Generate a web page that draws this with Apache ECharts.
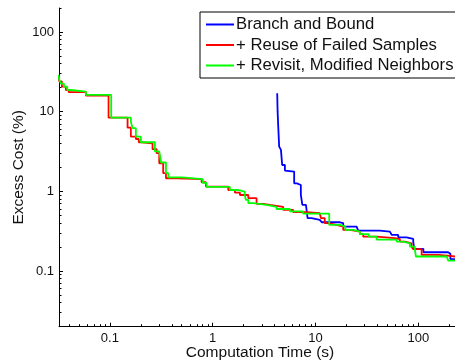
<!DOCTYPE html>
<html>
<head>
<meta charset="utf-8">
<script src="https://cdn.jsdelivr.net/npm/echarts@6/dist/echarts.min.js"></script>
<style>
html,body{margin:0;padding:0;background:#fff;}
#chart{width:455px;height:364px;}
</style>
</head>
<body>
<div id="chart"></div>
<script>
// ---- data ----
const seriesNames = ['Branch and Bound', '+ Reuse of Failed Samples', '+ Revisit, Modified Neighbors'];

const bbTime = [4.24, 4.28, 4.34, 4.40, 4.43, 4.61, 4.74, 5.04, 5.24, 6.2, 6.6, 7.2, 7.45, 8.07, 8.37, 9.16, 11.0, 11.5, 17.3, 18.6, 25.1, 26.0, 42.3, 52.9, 55.0, 63.7, 76.9, 89.2, 91.2, 112, 195, 205, 260];
const bbCost = [17.0, 10.0, 6.49, 4.4, 3.64, 3.31, 2.14, 1.82, 1.77, 1.26, 1.20, 0.90, 0.675, 0.656, 0.46, 0.438, 0.429, 0.409, 0.398, 0.361, 0.344, 0.321, 0.312, 0.303, 0.284, 0.265, 0.253, 0.234, 0.19, 0.172, 0.165, 0.141, 0.141];

const reuseTime = [0.0317, 0.0322, 0.0341, 0.0373, 0.0397, 0.0585, 0.0971, 0.1486, 0.160, 0.179, 0.191, 0.203, 0.260, 0.285, 0.302, 0.330, 0.351, 0.45, 0.78, 0.859, 1.416, 1.644, 1.84, 2.22, 2.67, 3.10, 3.60, 4.85, 6.07, 8.19, 11.0, 11.3, 12.3, 13.2, 16.0, 18.6, 21.6, 27.0, 29.1, 39.3, 59.2, 66.2, 74.1, 86.0, 89.2, 107.7, 156.3, 203, 260];
const reuseCost = [28, 24, 20.6, 18.7, 17.6, 15.9, 8.4, 6.3, 4.86, 4.54, 4.13, 4.01, 3.38, 3.01, 2.25, 1.69, 1.46, 1.42, 1.30, 1.146, 1.04, 0.964, 0.90, 0.82, 0.695, 0.675, 0.64, 0.585, 0.547, 0.531, 0.522, 0.46, 0.398, 0.379, 0.361, 0.328, 0.312, 0.29, 0.27, 0.258, 0.251, 0.234, 0.223, 0.202, 0.188, 0.159, 0.155, 0.149, 0.149];

const revisitTime = [0.0317, 0.0322, 0.0335, 0.0357, 0.0385, 0.042, 0.0585, 0.103, 0.160, 0.166, 0.179, 0.200, 0.274, 0.302, 0.315, 0.351, 0.37, 0.50, 0.80, 0.873, 1.47, 1.75, 2.05, 2.10, 2.22, 2.48, 3.34, 4.18, 5.64, 7.59, 13.6, 17.3, 19.5, 23.3, 27.0, 33.0, 39.3, 61.5, 71.3, 82.8, 92.6, 94.8, 188.5, 195.4, 260];
const revisitCost = [29, 25, 22.5, 20.6, 18.7, 17.8, 16.2, 8.4, 7.5, 6.2, 4.86, 4.13, 3.17, 3.0, 2.3, 1.69, 1.5, 1.42, 1.28, 1.135, 1.04, 0.99, 0.90, 0.78, 0.71, 0.675, 0.64, 0.60, 0.56, 0.525, 0.379, 0.361, 0.328, 0.312, 0.29, 0.27, 0.248, 0.234, 0.223, 0.202, 0.184, 0.152, 0.145, 0.135, 0.135];

const xMajorTicks = [0.1, 1, 10, 100];
const xMinorTicks = [0.04, 0.05, 0.06, 0.07, 0.08, 0.09, 0.2, 0.3, 0.4, 0.5, 0.6, 0.7, 0.8, 0.9, 2, 3, 4, 5, 6, 7, 8, 9, 20, 30, 40, 50, 60, 70, 80, 90, 200];
const yMajorTicks = [0.1, 1, 10, 100];
const yMinorTicks = [0.03, 0.04, 0.05, 0.06, 0.07, 0.08, 0.09, 0.2, 0.3, 0.4, 0.5, 0.6, 0.7, 0.8, 0.9, 2, 3, 4, 5, 6, 7, 8, 9, 20, 30, 40, 50, 60, 70, 80, 90, 200];

const xRange = [0.032, 260];
const yRange = [0.02, 200];

function zip(a, b) { return a.map((v, i) => [v, b[i]]); }

const FONT = 'Liberation Sans, Arial, Helvetica, sans-serif';
const fmt = v => String(parseFloat(Number(v).toPrecision(4)));

const chart = echarts.init(document.getElementById('chart'), null, {renderer: 'canvas'});

const axisCommon = {
  type: 'log', logBase: 10,
  splitLine: {show: false},
  axisLine: {show: true, lineStyle: {color: '#000', width: 1}},
};

chart.setOption({
  animation: false,
  backgroundColor: '#fff',
  grid: {left: 59, top: 8, right: -6, bottom: 37.3, containLabel: false, outerBoundsMode: 'none'},
  legend: {
    data: seriesNames,
    orient: 'vertical',
    left: 200, top: 12,
    padding: [4, 40, 4, 6],
    itemGap: 3.5,
    itemWidth: 28, itemHeight: 2,
    icon: 'rect',
    backgroundColor: '#fff',
    borderColor: '#000', borderWidth: 1,
    textStyle: {fontFamily: FONT, fontSize: 16.7, color: '#111', lineHeight: 16, padding: [0, 0, 0, -3]},
  },
  xAxis: [
    Object.assign({}, axisCommon, {
      min: xRange[0], max: xRange[1],
      name: 'Computation Time (s)', nameLocation: 'middle', nameGap: 18, nameMoveOverlap: false,
      nameTextStyle: {fontFamily: FONT, fontSize: 15.5, color: '#111'},
      axisTick: {show: true, inside: true, length: 4, customValues: xMajorTicks, lineStyle: {color: '#000'}},
      axisLabel: {show: true, customValues: xMajorTicks, formatter: fmt, margin: 5, fontFamily: FONT, fontSize: 13, color: '#111'},
    }),
    Object.assign({}, axisCommon, {
      min: xRange[0], max: xRange[1],
      axisLine: {show: false},
      axisTick: {show: true, inside: true, length: 2.5, customValues: xMinorTicks, lineStyle: {color: '#000'}},
      axisLabel: {show: false},
      position: 'bottom',
    })
  ],
  yAxis: [
    Object.assign({}, axisCommon, {
      min: yRange[0], max: yRange[1],
      name: 'Excess Cost (%)', nameLocation: 'middle', nameGap: 32, nameRotate: 90, nameMoveOverlap: false,
      nameTextStyle: {fontFamily: FONT, fontSize: 15.5, color: '#111'},
      axisTick: {show: true, inside: true, length: 4, customValues: yMajorTicks, lineStyle: {color: '#000'}},
      axisLabel: {show: true, customValues: yMajorTicks, formatter: fmt, margin: 5, fontFamily: FONT, fontSize: 13, color: '#111'},
    }),
    Object.assign({}, axisCommon, {
      min: yRange[0], max: yRange[1],
      axisLine: {show: false},
      axisTick: {show: true, inside: true, length: 2.5, customValues: yMinorTicks, lineStyle: {color: '#000'}},
      axisLabel: {show: false},
      position: 'left',
    })
  ],
  series: [
    {name: seriesNames[0], type: 'line', step: 'end', symbol: 'none', data: zip(bbTime, bbCost),
     lineStyle: {color: '#0000ff', width: 1.8}, itemStyle: {color: '#0000ff'}, clip: true},
    {name: seriesNames[1], type: 'line', step: 'end', symbol: 'none', data: zip(reuseTime, reuseCost),
     lineStyle: {color: '#ff0000', width: 1.8}, itemStyle: {color: '#ff0000'}, clip: true},
    {name: seriesNames[2], type: 'line', step: 'end', symbol: 'none', data: zip(revisitTime, revisitCost),
     lineStyle: {color: '#00ff00', width: 1.8}, itemStyle: {color: '#00ff00'}, clip: true},
  ]
});
</script>
</body>
</html>
